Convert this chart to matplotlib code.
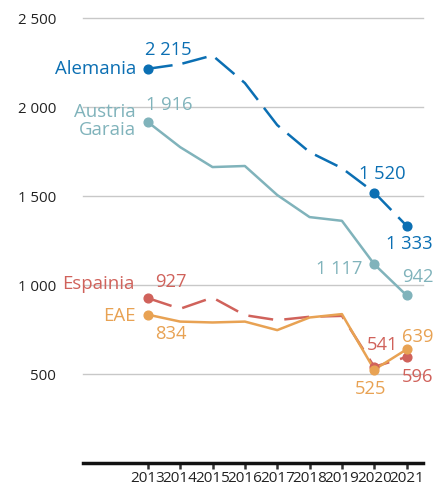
import numpy as np
import matplotlib
matplotlib.use("Agg")
import matplotlib.pyplot as plt

plt.rcParams['font.family'] = ['Open Sans', 'DejaVu Sans']

years = [2013, 2014, 2015, 2016, 2017, 2018, 2019, 2020, 2021]
alemania = [2215, 2241, 2290, 2135, 1899, 1747, 1657, 1520, 1333]
austria = [1916, 1775, 1663, 1669, 1506, 1382, 1361, 1117, 942]
espainia = [927, 867, 930, 831, 803, 822, 827, 541, 596]
eae = [834, 795, 790, 795, 747, 818, 837, 525, 639]

names = ["Alemania", "Austria\nGaraia", "Espainia", "EAE"]
yticks = [500, 1000, 1500, 2000, 2500]
ytick_labels = ["500", "1 000", "1 500", "2 000", "2 500"]


def fmt(v):
    return f"{v:,}".replace(",", " ")


colors = ["#0b6fb3", "#80b3bb", "#d0625b", "#e8a253"]
styles = [(0, (10, 4)), "-", (0, (10, 4.5)), "-"]
series = [alemania, austria, espainia, eae]

# label offsets in pixels: first, 2020, 2021 value labels, then name label
val_off = [
    [(21, 19), (8, 19), (3, -18)],
    [(21, 17), (-35, -5), (11, 18)],
    [(23, 16), (8, 22), (11, -20)],
    [(23, -19), (-4, -19), (11, 12)],
]
name_off = [(-12, 0), (-12, 1), (-13, 14), (-12, -1)]

fig = plt.figure(figsize=(4.35, 4.88), dpi=100)
ax = fig.add_axes([0.191, 0.051, 0.781, 0.912])

for yv in yticks:
    ax.axhline(yv, color="#c8c8c8", lw=1, zorder=0, clip_on=False)

for vals, c, ls in zip(series, colors, styles):
    ax.plot(years, vals, color=c, lw=1.8, linestyle=ls, zorder=2)
    idx = [0, 7, 8]
    ax.plot([years[i] for i in idx], [vals[i] for i in idx], "o", color=c,
            ms=6.3, zorder=3)

for vals, c, offs, noff, name in zip(series, colors, val_off, name_off, names):
    for i, off in zip([0, 7, 8], offs):
        ax.annotate(fmt(vals[i]), (years[i], vals[i]), xytext=off,
                    textcoords="offset pixels", ha="center", va="center",
                    color=c, fontsize=13.2)
    ax.annotate(name, (years[0], vals[0]), xytext=noff,
                textcoords="offset pixels", ha="right", va="center",
                multialignment="right", color=c, fontsize=13.4,
                linespacing=0.95)

ax.set_xlim(2011.0, 2021.5)
ax.set_ylim(0, 2500)
for s in ["top", "right", "left"]:
    ax.spines[s].set_visible(False)
ax.spines["bottom"].set_linewidth(2.5)
ax.spines["bottom"].set_color("#111111")

ax.set_xticks(years)
ax.set_xticklabels([str(y) for y in years], fontsize=11, color="#222222")
ax.tick_params(axis="x", length=4, width=1.8, color="#333333", pad=1.5)
ax.set_yticks(yticks)
ax.set_yticklabels(ytick_labels, fontsize=10.8, color="#222222")
ax.tick_params(axis="y", length=0, pad=19.5)

fig.savefig("out.png", dpi=100)
